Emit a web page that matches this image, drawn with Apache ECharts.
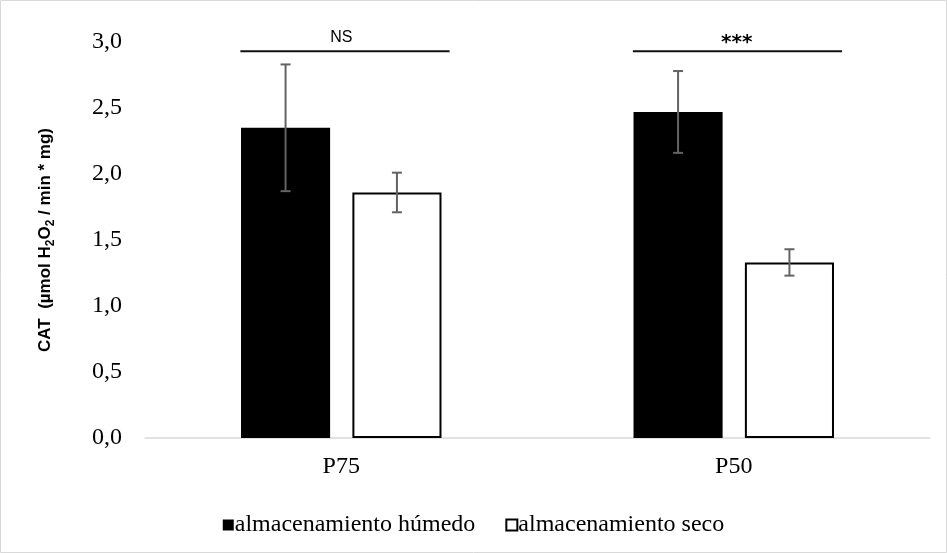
<!DOCTYPE html>
<html>
<head>
<meta charset="utf-8">
<script src="https://cdn.jsdelivr.net/npm/echarts@6/dist/echarts.min.js"></script>
<style>
  html, body { margin: 0; padding: 0; background: #fff; }
  #ch1 { width: 947px; height: 553px; }
</style>
</head>
<body>
<div id="ch1"></div>
<script>
const categories = ['P75', 'P50']
const humedo = [2.35, 2.47]
const humedoErr = [0.48, 0.31]
const seco = [1.86, 1.33]
const secoErr = [0.15, 0.10]
const yTicks = { min: 0, max: 3, interval: 0.5 }
const signif = ['NS', '***']
const signifLineY = 2.93
const signifTextY = 3.03

const BAR_PCT = 22.7
const GAP_PCT = 25

const cht1 = echarts.init(document.getElementById('ch1'))

// offset of each bar centre from the category centre, as share of band
function barOffset (band, idx) {
  const bw = band * BAR_PCT / 100
  const step = bw * (1 + GAP_PCT / 100)
  return (idx === 0 ? -1 : 1) * step / 2
}

function errSeries (vals, errs, idx) {
  return {
    type: 'custom',
    silent: true,
    z: 5,
    data: vals.map((v, i) => [i, v, errs[i]]),
    renderItem: function (params, api) {
      const band = api.size([1, 0])[0]
      const c = api.coord([api.value(0), api.value(1)])
      const x = c[0] + barOffset(band, idx)
      const top = api.coord([api.value(0), api.value(1) + api.value(2)])[1]
      const bot = api.coord([api.value(0), api.value(1) - api.value(2)])[1]
      const cap = 5
      const st = { stroke: '#636363', lineWidth: 2 }
      return {
        type: 'group',
        children: [
          { type: 'line', shape: { x1: x, y1: top, x2: x, y2: bot }, style: st },
          { type: 'line', shape: { x1: x - cap, y1: top, x2: x + cap, y2: top }, style: st },
          { type: 'line', shape: { x1: x - cap, y1: bot, x2: x + cap, y2: bot }, style: st }
        ]
      }
    }
  }
}

const options1 = {
  animation: false,
  grid: { left: 145, right: 17, top: 42, bottom: 115, outerBoundsMode: 'none' },
  graphic: [{
    type: 'rect',
    shape: { x: 0.5, y: 0.5, width: 946, height: 552 },
    style: { fill: 'none', stroke: '#d9d9d9', lineWidth: 1 },
    silent: true
  }],
  legend: {
    left: 'center',
    top: 508,
    itemWidth: 11,
    itemHeight: 11,
    itemGap: 30,
    icon: 'rect',
    textStyle: { fontFamily: 'Liberation Serif', fontSize: 24, color: '#000', padding: [0, 0, 0, -4] },
    data: ['almacenamiento húmedo', 'almacenamiento seco']
  },
  xAxis: {
    type: 'category',
    data: categories,
    axisLine: { lineStyle: { color: '#d9d9d9', width: 1.5 } },
    axisTick: { show: false },
    axisLabel: { fontFamily: 'Liberation Serif', fontSize: 24, color: '#000', margin: 17 }
  },
  yAxis: {
    type: 'value',
    min: yTicks.min,
    max: yTicks.max,
    interval: yTicks.interval,
    splitLine: { show: false },
    axisLine: { show: false },
    axisTick: { show: false },
    axisLabel: {
      fontFamily: 'Liberation Serif',
      fontSize: 24,
      color: '#000',
      margin: 23,
      formatter: v => v.toFixed(1).replace('.', ',')
    },
    name: '{b|CAT  (µmol H}{s|2}{b|O}{s|2}{b| / min * mg)}',
    nameLocation: 'middle',
    nameGap: 88,
    nameTextStyle: {
      rich: {
        b: { fontFamily: 'Liberation Sans', fontWeight: 'bold', fontSize: 17, color: '#000', lineHeight: 24, verticalAlign: 'middle' },
        s: { fontFamily: 'Liberation Sans', fontWeight: 'bold', fontSize: 12, color: '#000', lineHeight: 24, verticalAlign: 'bottom' }
      }
    }
  },
  series: [
    {
      name: 'almacenamiento húmedo',
      type: 'bar',
      barWidth: BAR_PCT + '%',
      barGap: GAP_PCT + '%',
      itemStyle: { color: '#000' },
      data: humedo
    },
    {
      name: 'almacenamiento seco',
      type: 'bar',
      barWidth: BAR_PCT + '%',
      barGap: GAP_PCT + '%',
      itemStyle: { color: '#fff', borderColor: '#000', borderWidth: 2 },
      data: seco
    },
    errSeries(humedo, humedoErr, 0),
    errSeries(seco, secoErr, 1),
    {
      type: 'custom',
      silent: true,
      data: signif.map((s, i) => [i, signifLineY, s]),
      renderItem: function (params, api) {
        const band = api.size([1, 0])[0]
        const c = api.coord([api.value(0), signifLineY])
        const t = api.coord([api.value(0), signifTextY])
        const stars = signif[params.dataIndex].indexOf('*') >= 0
        return {
          type: 'group',
          children: [
            {
              type: 'line',
              shape: { x1: c[0] - band * 0.257, y1: c[1], x2: c[0] + band * 0.276, y2: c[1] },
              style: { stroke: '#111', lineWidth: 2 }
            },
            {
              type: 'text',
              x: c[0] + (stars ? 3 : 0),
              y: t[1] + (stars ? 5 : 0),
              style: {
                text: signif[params.dataIndex],
                fontFamily: stars ? 'DejaVu Sans' : 'Liberation Sans',
                fontWeight: stars ? 'bold' : 'normal',
                fontSize: stars ? 20 : 16,
                fill: '#000',
                align: 'center',
                verticalAlign: 'middle'
              }
            }
          ]
        }
      }
    }
  ]
}
cht1.setOption(options1)
</script>
</body>
</html>
